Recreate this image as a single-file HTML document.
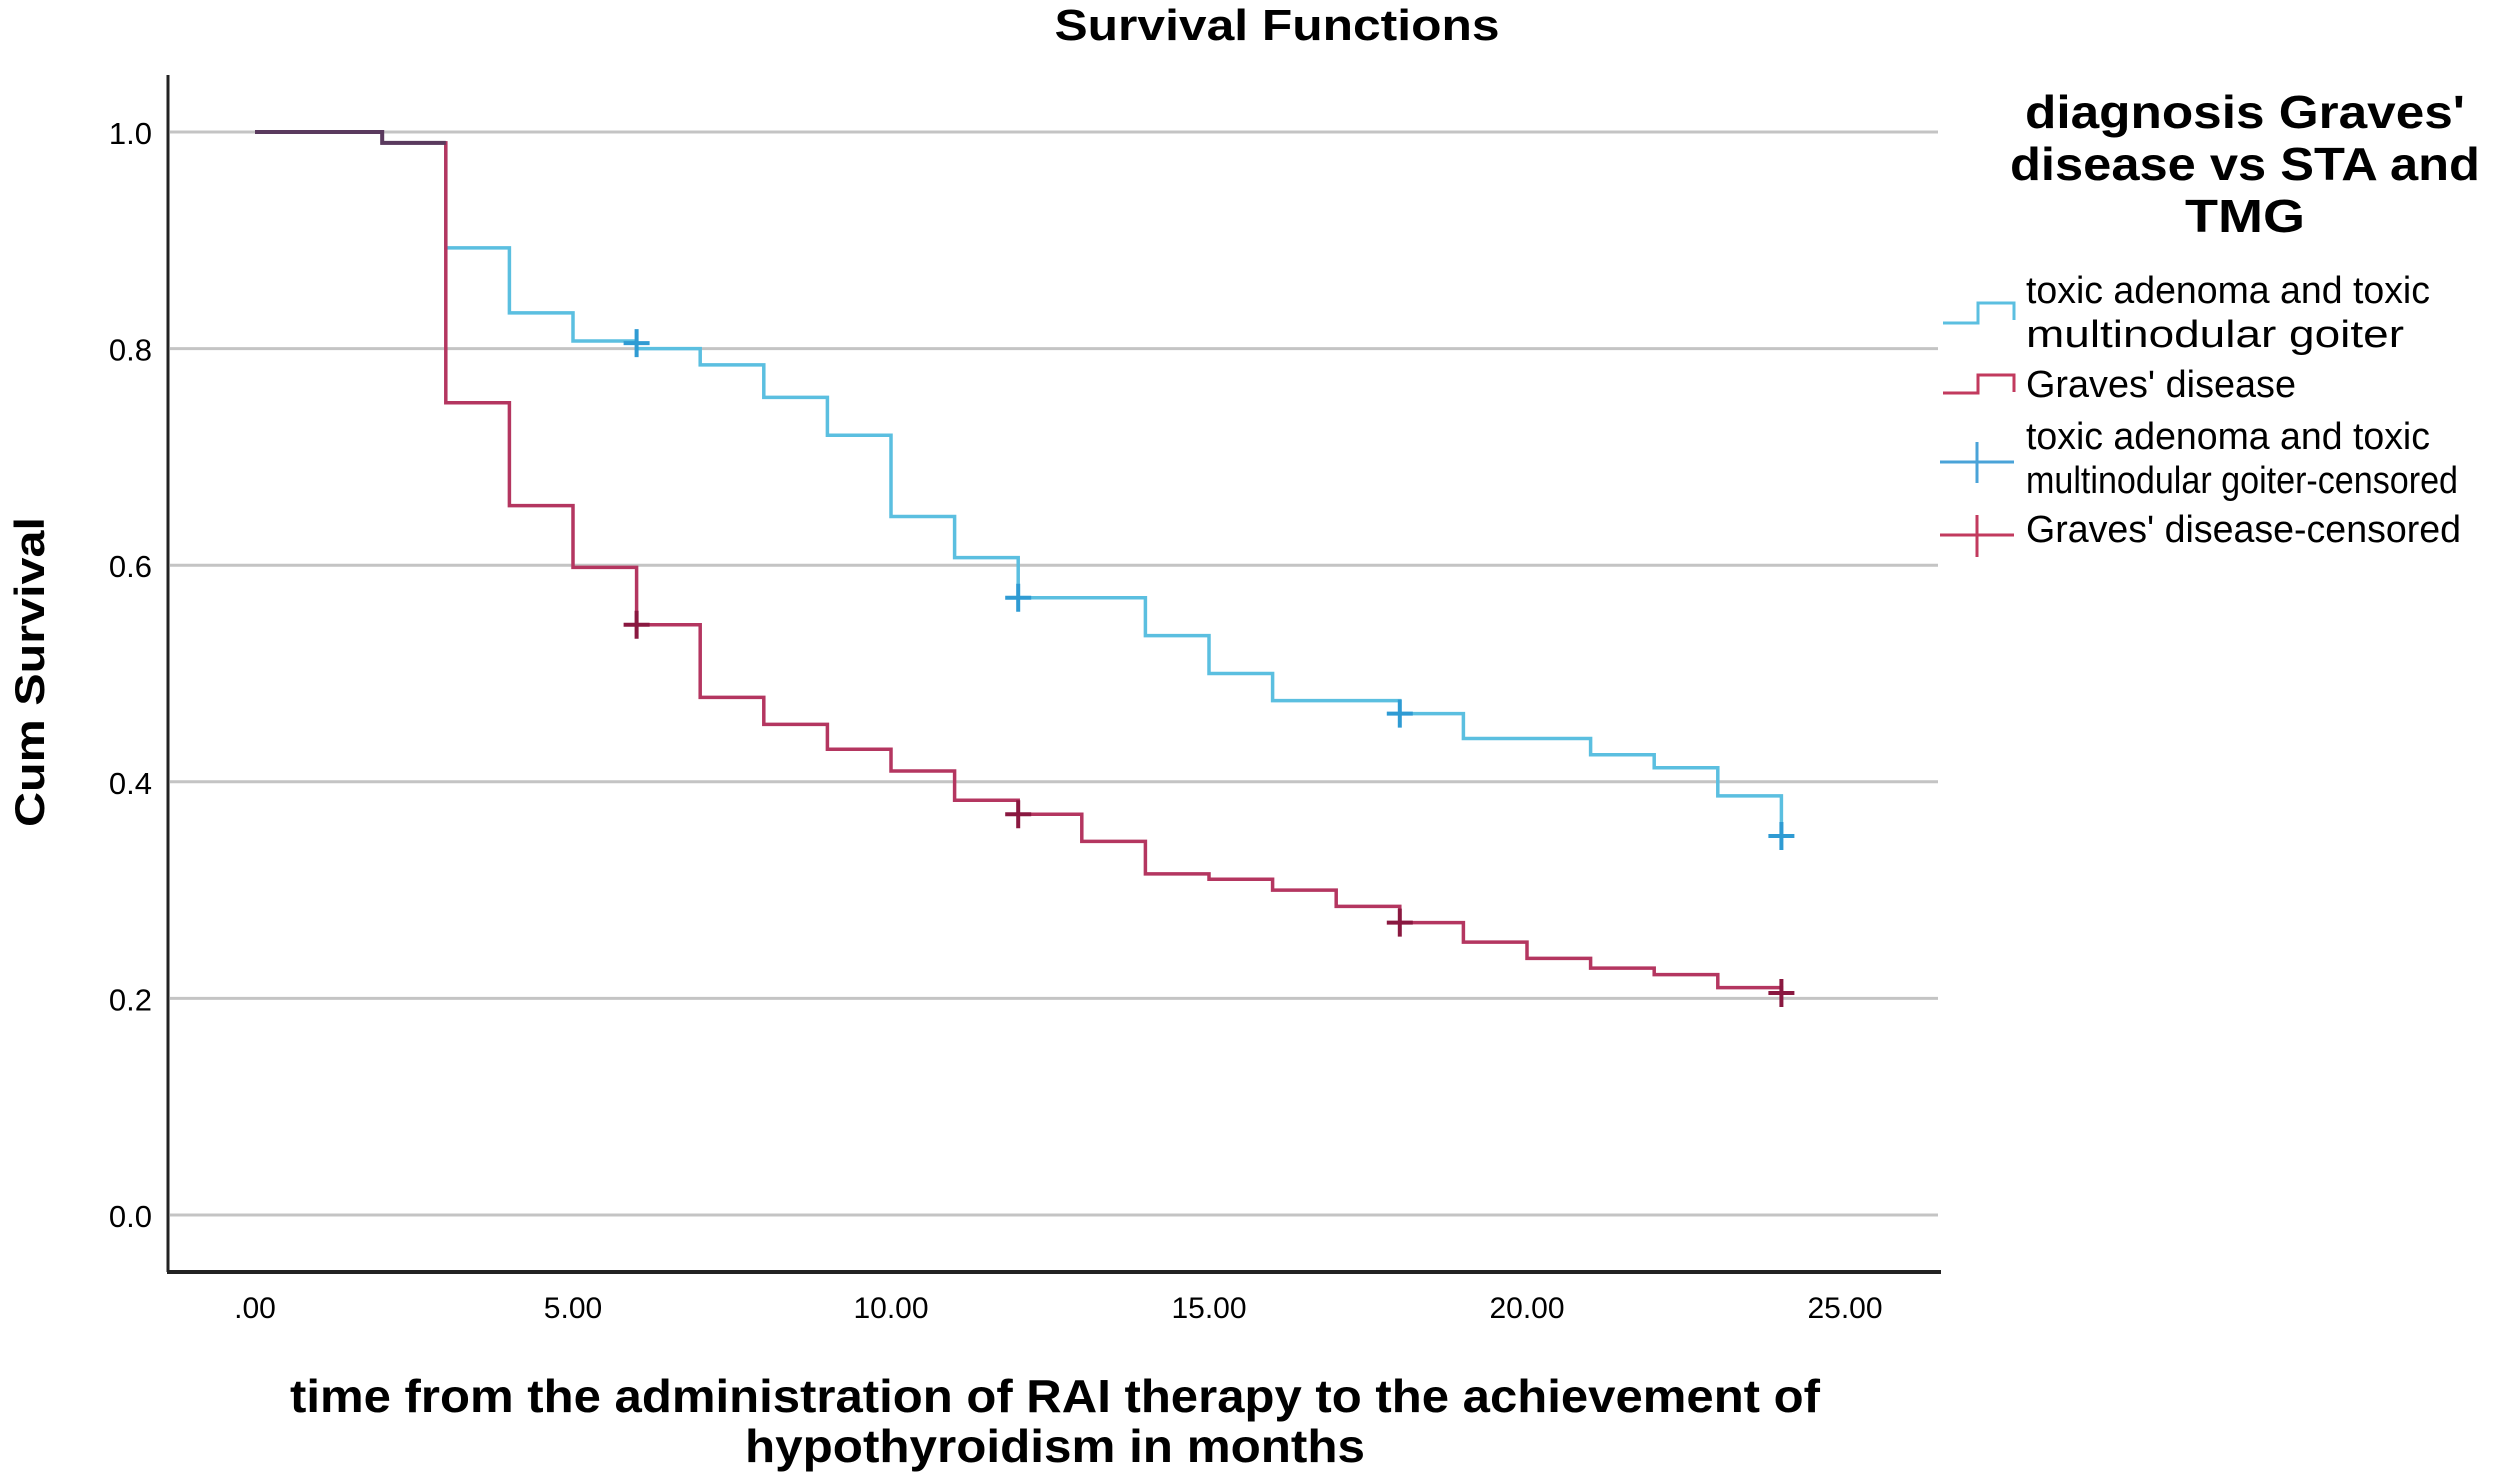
<!DOCTYPE html>
<html><head><meta charset="utf-8">
<style>
html,body{margin:0;padding:0;background:#fff;}
svg{display:block;font-family:"Liberation Sans",Arial,sans-serif;}
</style></head>
<body>
<svg id="chart" width="2508" height="1480" viewBox="0 0 2508 1480" xmlns="http://www.w3.org/2000/svg">
<rect width="2508" height="1480" fill="#fff"/>
<text x="1277" y="40" font-size="44" font-weight="bold" text-anchor="middle" textLength="445" lengthAdjust="spacingAndGlyphs">Survival Functions</text>
<g id="grid"></g>
<line x1="168" y1="75" x2="168" y2="1272" stroke="#222" stroke-width="3"/>
<line x1="167" y1="1272" x2="1941" y2="1272" stroke="#222" stroke-width="4"/>
<g id="yticks"></g>
<g id="xticks"></g>
<g id="series"></g>
<text transform="translate(44,672) rotate(-90)" font-size="42" font-weight="bold" text-anchor="middle" textLength="310" lengthAdjust="spacingAndGlyphs">Cum Survival</text>
<text x="1055" y="1412" font-size="46" font-weight="bold" text-anchor="middle" textLength="1530" lengthAdjust="spacingAndGlyphs">time from the administration of RAI therapy to the achievement of</text>
<text x="1055" y="1462" font-size="46" font-weight="bold" text-anchor="middle" textLength="620" lengthAdjust="spacingAndGlyphs">hypothyroidism in months</text>
<g>
<text x="2245" y="128" font-size="46" font-weight="bold" text-anchor="middle" textLength="440" lengthAdjust="spacingAndGlyphs">diagnosis Graves'</text>
<text x="2245" y="180" font-size="46" font-weight="bold" text-anchor="middle" textLength="470" lengthAdjust="spacingAndGlyphs">disease vs STA and</text>
<text x="2245" y="232" font-size="46" font-weight="bold" text-anchor="middle" textLength="120" lengthAdjust="spacingAndGlyphs">TMG</text>
<g>
<path d="M1943,323 H1978 V303 H2014 V320" fill="none" stroke="#5bbfe0" stroke-width="3"/>
<text x="2026" y="303" font-size="38" textLength="404" lengthAdjust="spacingAndGlyphs">toxic adenoma and toxic</text>
<text x="2026" y="347" font-size="38" textLength="378" lengthAdjust="spacingAndGlyphs">multinodular goiter</text>
</g>
<g>
<path d="M1943,393 H1978 V375 H2014 V392" fill="none" stroke="#c23a5e" stroke-width="3"/>
<text x="2026" y="397" font-size="38" textLength="270" lengthAdjust="spacingAndGlyphs">Graves' disease</text>
</g>
<g>
<path d="M1940,462 H2014 M1977,442 V483" fill="none" stroke="#4aa3d8" stroke-width="3"/>
<text x="2026" y="449" font-size="38" textLength="404" lengthAdjust="spacingAndGlyphs">toxic adenoma and toxic</text>
<text x="2026" y="493" font-size="38" textLength="432" lengthAdjust="spacingAndGlyphs">multinodular goiter-censored</text>
</g>
<g>
<path d="M1940,535 H2014 M1977,515 V557" fill="none" stroke="#c23a5e" stroke-width="3"/>
<text x="2026" y="542" font-size="38" textLength="435" lengthAdjust="spacingAndGlyphs">Graves' disease-censored</text>
</g>
</g>
</svg>
<script>
const yTicks = [0.0, 0.2, 0.4, 0.6, 0.8, 1.0];
const yTickLabels = ["0.0", "0.2", "0.4", "0.6", "0.8", "1.0"];
const xTicks = [0, 5, 10, 15, 20, 25];
const xTickLabels = [".00", "5.00", "10.00", "15.00", "20.00", "25.00"];
const stepTimes = [0,1,2,3,4,5,6,7,8,9,10,11,12,13,14,15,16,17,18,19,20,21,22,23,24];
const gravesSurv = [1.0,1.0,0.99,0.75,0.655,0.598,0.545,0.478,0.453,0.43,0.41,0.383,0.37,0.345,0.315,0.31,0.30,0.285,0.27,0.252,0.237,0.228,0.222,0.21,0.205];
const staSurv = [1.0,1.0,0.99,0.893,0.833,0.807,0.80,0.785,0.755,0.72,0.645,0.607,0.57,0.57,0.535,0.50,0.475,0.475,0.463,0.44,0.44,0.425,0.413,0.387,0.35];
const gravesCensorT = [6,12,18,24];
const gravesCensorS = [0.545,0.37,0.27,0.205];
const staCensorT = [6,12,18,24];
const staCensorS = [0.805,0.57,0.463,0.35];

const X0=255, PXM=63.6, Y0=1215, PXV=1083;
function xs(t){return X0+t*PXM;}
function ys(v){return Y0-v*PXV;}
const NS="http://www.w3.org/2000/svg";
function mk(tag,attrs,parent){const e=document.createElementNS(NS,tag);for(const k in attrs)e.setAttribute(k,attrs[k]);parent.appendChild(e);return e;}

const grid=document.getElementById('grid');
const yt=document.getElementById('yticks');
yTicks.forEach((v,i)=>{
  const g=mk('line',{x1:170,x2:1938,y1:ys(v),y2:ys(v),stroke:'#c4c4c4','stroke-width':3},grid);
  
  
  const t=mk('text',{x:152,y:ys(v)+12,'font-size':31,'text-anchor':'end'},yt);
  t.textContent=yTickLabels[i];
  
  
});
const xt=document.getElementById('xticks');
xTicks.forEach((v,i)=>{
  const t=mk('text',{x:xs(v),y:1318,'font-size':30,'text-anchor':'middle'},xt);
  t.textContent=xTickLabels[i];
  
  
});
const ser=document.getElementById('series');
function stepPath(T,S){
  let d='M'+xs(T[0])+','+ys(S[0]);
  for(let i=1;i<T.length;i++){d+=' H'+xs(T[i])+' V'+ys(S[i]);}
  return d;
}
const pSta=mk('path',{d:stepPath(stepTimes,staSurv),fill:'none',stroke:'#5bbfe0','stroke-width':3.5},ser);


const pGr=mk('path',{d:stepPath(stepTimes,gravesSurv),fill:'none',stroke:'#b43660','stroke-width':3.5},ser);


const pOv=mk('path',{d:stepPath(stepTimes.slice(0,4),gravesSurv.slice(0,3).concat([gravesSurv[2]])),fill:'none',stroke:'#5a3a5e','stroke-width':4},ser);


function censor(T,S,color,name){
  T.forEach((t,i)=>{
    const c=mk('path',{d:'M'+(xs(t)-13)+','+ys(S[i])+' H'+(xs(t)+13)+' M'+xs(t)+','+(ys(S[i])-14)+' V'+(ys(S[i])+14),stroke:color,'stroke-width':4,fill:'none'},ser);
    
    
  });
}
censor(staCensorT,staCensorS,'#2f9bd3','censor-mark-sta-tmg');
censor(gravesCensorT,gravesCensorS,'#8a1840','censor-mark-graves');
</script>
</body></html>
